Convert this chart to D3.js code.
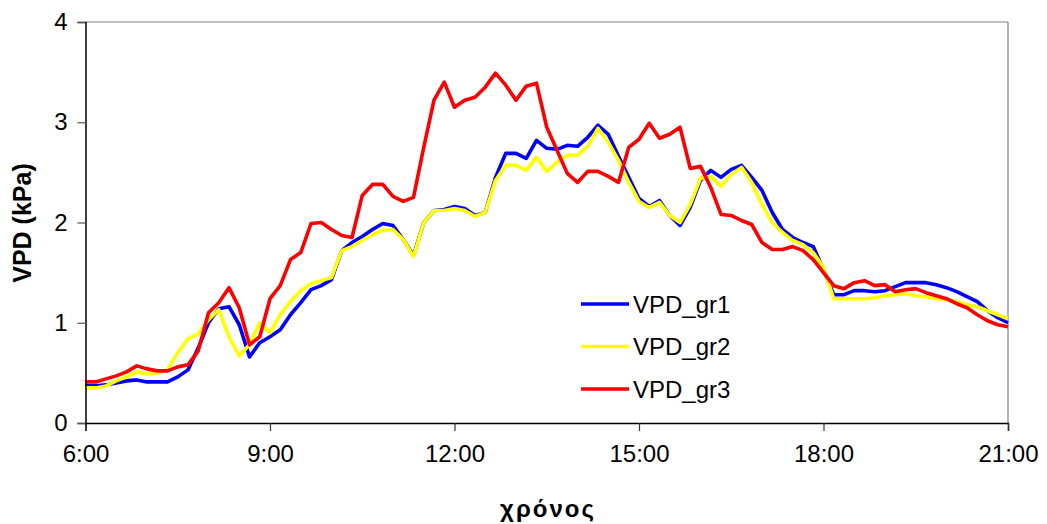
<!DOCTYPE html>
<meta charset="utf-8">
<head>
<style>
  body { margin: 0; background: #fff; }
  svg { font-family: "Liberation Sans", Arial, sans-serif; }
  .tick text { font-size: 24px; fill: #000; }
  .line { fill: none; stroke-width: 3.6px; stroke-linejoin: round; }
</style>
</head>
<body>
<script src="https://d3js.org/d3.v7.min.js"></script>
<script>
// readings every 10 minutes, 6:00 .. 21:00
var startHour = 6, stepMin = 10;

var gr1 = [0.37,0.37,0.38,0.40,0.42,0.43,0.41,0.41,0.41,0.46,0.53,0.75,
  1.00,1.14,1.16,0.98,0.66,0.80,0.86,0.93,1.08,1.20,1.33,1.37,
  1.43,1.72,1.80,1.86,1.93,1.99,1.97,1.83,1.67,2.00,2.12,2.13,
  2.16,2.14,2.07,2.10,2.45,2.69,2.69,2.64,2.82,2.74,2.73,2.77,
  2.76,2.85,2.97,2.88,2.66,2.45,2.24,2.16,2.22,2.07,1.97,2.15,
  2.42,2.52,2.45,2.53,2.57,2.45,2.32,2.10,1.93,1.85,1.80,1.76,
  1.53,1.28,1.28,1.32,1.32,1.31,1.32,1.36,1.40,1.40,1.40,1.38,
  1.35,1.31,1.26,1.21,1.12,1.05,1.00];

var gr2 = [0.35,0.35,0.37,0.42,0.46,0.51,0.49,0.50,0.53,0.70,0.84,0.89,
  1.03,1.13,0.86,0.67,0.78,1.00,0.90,1.08,1.21,1.32,1.39,1.42,
  1.45,1.72,1.76,1.82,1.88,1.92,1.93,1.83,1.66,2.00,2.12,2.12,
  2.14,2.12,2.06,2.10,2.42,2.57,2.57,2.52,2.65,2.51,2.60,2.67,
  2.67,2.76,2.94,2.80,2.62,2.40,2.21,2.15,2.20,2.07,2.00,2.18,
  2.44,2.46,2.36,2.48,2.55,2.40,2.18,2.00,1.90,1.82,1.78,1.70,
  1.55,1.24,1.24,1.24,1.24,1.25,1.27,1.28,1.29,1.27,1.26,1.24,
  1.23,1.21,1.18,1.16,1.12,1.08,1.04];

var gr3 = [0.41,0.41,0.44,0.47,0.51,0.57,0.54,0.52,0.52,0.56,0.58,0.72,
  1.10,1.20,1.35,1.15,0.78,0.86,1.24,1.37,1.63,1.70,1.99,2.00,
  1.93,1.87,1.85,2.27,2.38,2.38,2.26,2.21,2.25,2.75,3.22,3.40,
  3.15,3.22,3.25,3.35,3.49,3.37,3.22,3.36,3.39,2.95,2.72,2.49,
  2.40,2.51,2.51,2.46,2.40,2.75,2.83,2.99,2.84,2.88,2.95,2.54,
  2.56,2.35,2.08,2.07,2.02,1.98,1.80,1.73,1.73,1.76,1.72,1.63,
  1.50,1.37,1.34,1.40,1.42,1.37,1.38,1.31,1.33,1.34,1.30,1.27,
  1.24,1.19,1.15,1.08,1.02,0.98,0.96];

var seriesNames = ["VPD_gr1", "VPD_gr2", "VPD_gr3"];
var seriesColors = ["#0000ff", "#ffff00", "#ff0000"];
var xTicks = [6, 9, 12, 15, 18, 21];
var yTicks = [0, 1, 2, 3, 4];

var times = gr1.map(function (d, i) { return startHour + i * stepMin / 60; });
var series = [gr1, gr2, gr3];

var W = 1047, H = 524;
var margin = {top: 22, right: 39, bottom: 101, left: 85.5},
    width = W - margin.left - margin.right,
    height = H - margin.top - margin.bottom;

var svg = d3.select("body").append("svg")
    .attr("width", W)
    .attr("height", H);

var g = svg.append("g")
    .attr("transform", "translate(" + margin.left + "," + margin.top + ")");

var x = d3.scaleLinear().domain([6, 21]).range([0, width]);
var y = d3.scaleLinear().domain([0, 4]).range([height, 0]);

// frame top / right
g.append("line").attr("x1", 0).attr("x2", width).attr("y1", 0).attr("y2", 0)
    .attr("stroke", "#808080").attr("stroke-width", 1.2);
g.append("line").attr("x1", width).attr("x2", width).attr("y1", 0).attr("y2", height)
    .attr("stroke", "#808080").attr("stroke-width", 1.2);

var line = d3.line()
    .x(function (d, i) { return x(times[i]); })
    .y(function (d) { return y(d); });

series.forEach(function (s, k) {
    g.append("path")
        .datum(s)
        .attr("class", "line")
        .attr("stroke", seriesColors[k])
        .attr("d", line);
});

// axes
var xAxis = g.append("g")
    .attr("transform", "translate(0," + height + ")")
    .call(d3.axisBottom(x).tickValues(xTicks).tickSize(8).tickPadding(14)
        .tickFormat(function (d) { return d + ":00"; }));
xAxis.select(".domain").attr("stroke", "#000").attr("stroke-width", 1.5);
xAxis.selectAll(".tick line").attr("stroke", "#333").attr("stroke-width", 1.2);

var yAxis = g.append("g")
    .call(d3.axisLeft(y).tickValues(yTicks).tickSize(8).tickPadding(10)
        .tickFormat(d3.format("d")));
yAxis.select(".domain").attr("stroke", "#000").attr("stroke-width", 1.5);
yAxis.selectAll(".tick line").attr("stroke", "#555").attr("stroke-width", 1.2);

// axis titles
svg.append("text")
    .attr("transform", "translate(31,223) rotate(-90)")
    .attr("text-anchor", "middle")
    .style("font-size", "25px")
    .style("font-weight", "bold")
    .text("VPD (kPa)");

svg.append("text")
    .attr("x", 548)
    .attr("y", 517)
    .attr("text-anchor", "middle")
    .style("font-size", "24px")
    .style("font-weight", "bold")
    .style("letter-spacing", "2px")
    .text("χρόνος");

// legend
var legend = svg.append("g").attr("transform", "translate(581,304)");
seriesNames.forEach(function (name, k) {
    var row = legend.append("g").attr("transform", "translate(0," + (k * 42.5) + ")");
    row.append("line")
        .attr("x1", 0).attr("x2", 48)
        .attr("stroke", seriesColors[k])
        .attr("stroke-width", 3.6);
    row.append("text")
        .attr("x", 52)
        .attr("y", 8.5)
        .style("font-size", "24px")
        .text(name);
});
</script>
</body>
